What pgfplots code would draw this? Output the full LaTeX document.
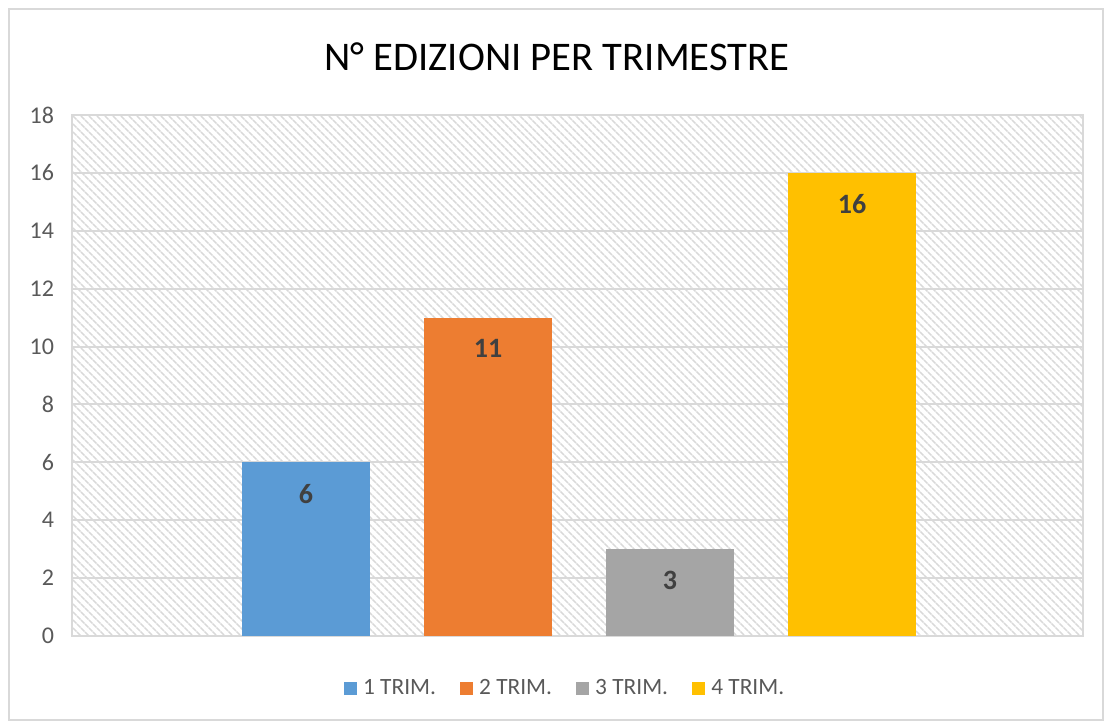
\documentclass[border=0pt]{standalone}
\usepackage{fontspec}
\setmainfont{Carlito}
\usepackage{pgfplots}
\pgfplotsset{compat=1.18}
\usetikzlibrary{patterns.meta}
\definecolor{cBlue}{HTML}{5B9BD5}
\definecolor{cOrange}{HTML}{ED7D31}
\definecolor{cGray}{HTML}{A5A5A5}
\definecolor{cYellow}{HTML}{FFC000}
\definecolor{cGrid}{HTML}{D9D9D9}
\definecolor{cText}{HTML}{595959}
\definecolor{cLabel}{HTML}{404040}
\begin{document}
\begin{tikzpicture}
% page frame: 1104 x 721 px at 0.75pt per px, axis corner at px (72,636)
\path[use as bounding box] (-54pt,-63.75pt) rectangle (774pt,477pt);
\draw[cGrid, line width=1.5pt] (-47.25pt,-63pt) rectangle (773.25pt,470.25pt);
\begin{axis}[
  at={(0,0)}, anchor=south west,
  scale only axis,
  width=758.25pt, height=390.75pt,
  xmin=-1.286, xmax=4.269,
  ymin=0, ymax=18,
  ytick={0,2,...,18},
  xtick=\empty,
  ybar, bar width=0.703,
  axis background/.style={pattern={Lines[angle=-45,distance=4pt,line width=1.3pt]}, pattern color=cGrid},
  ymajorgrids,
  grid style={cGrid, line width=1.5pt},
  axis line style={cGrid, line width=1.5pt},
  major tick length=0pt,
  /pgf/number format/assume math mode=true,
  tick label style={font=\fontsize{18}{18}\selectfont, text=cText},
  yticklabel style={xshift=-10pt},
  nodes near coords,
  nodes near coords style={anchor=north, yshift=-16pt, inner sep=0pt,
    font=\fontsize{21}{21}\selectfont\bfseries, text=cLabel},
  legend style={at={(0.488,-0.1)}, anchor=center, legend columns=4, draw=none,
    fill=none, font=\fontsize{17.5}{17.5}\selectfont, text=cText,
    /tikz/every odd column/.append style={column sep=3pt},
    /tikz/every even column/.append style={column sep=16pt}},
  legend cell align=left,
]
\addplot[fill=cBlue, draw=none, bar shift=0pt, forget plot] coordinates {(0,6)};
\addplot[fill=cOrange, draw=none, bar shift=0pt, forget plot] coordinates {(1,11)};
\addplot[fill=cGray, draw=none, bar shift=0pt, forget plot] coordinates {(2,3)};
\addplot[fill=cYellow, draw=none, bar shift=0pt, forget plot] coordinates {(3,16)};
\addlegendimage{legend image code/.code={\fill[cBlue] (0pt,-4.5pt) rectangle (9pt,4.5pt);}}
\addlegendentry{1 TRIM.}
\addlegendimage{legend image code/.code={\fill[cOrange] (0pt,-4.5pt) rectangle (9pt,4.5pt);}}
\addlegendentry{2 TRIM.}
\addlegendimage{legend image code/.code={\fill[cGray] (0pt,-4.5pt) rectangle (9pt,4.5pt);}}
\addlegendentry{3 TRIM.}
\addlegendimage{legend image code/.code={\fill[cYellow] (0pt,-4.5pt) rectangle (9pt,4.5pt);}}
\addlegendentry{4 TRIM.}
\end{axis}
\node[font=\fontsize{30.5}{30.5}\selectfont, text=black] at (363.75pt,434.25pt) {N° EDIZIONI PER TRIMESTRE};
\end{tikzpicture}
\end{document}
